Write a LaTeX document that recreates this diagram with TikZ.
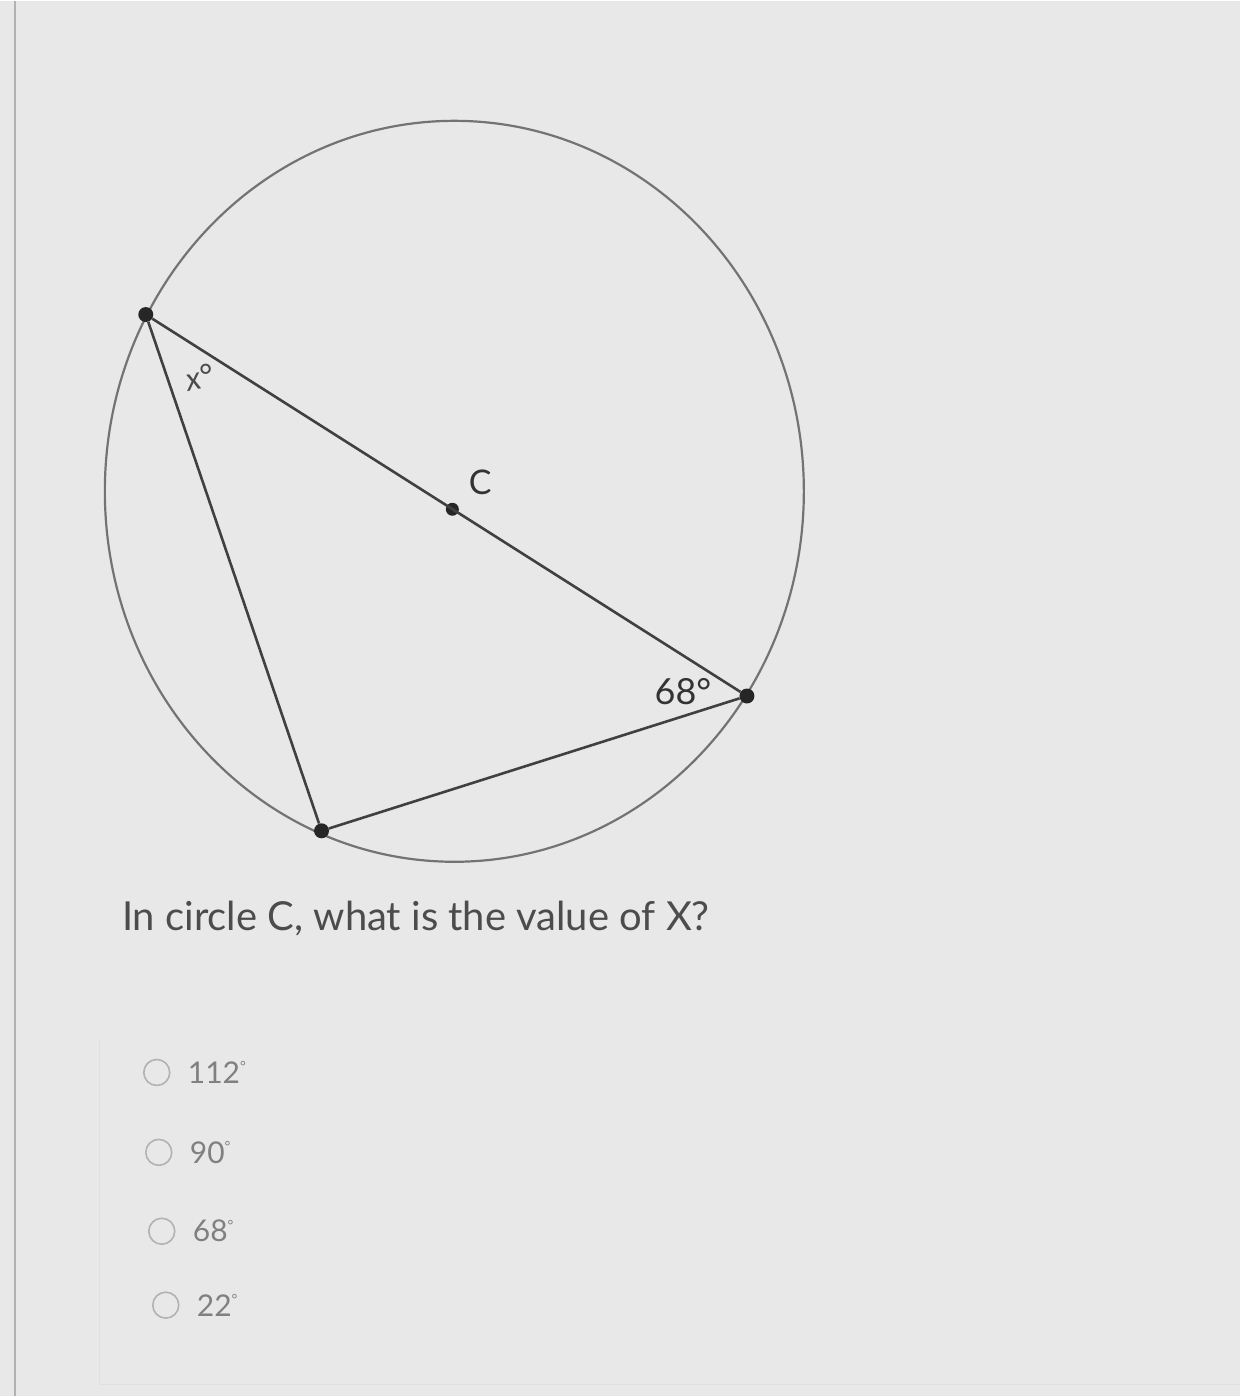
\documentclass[tikz,border=0pt]{standalone}
\usepackage{fontspec}
\setmainfont{Lato}
\setsansfont{Lato}
\begin{document}
\begin{tikzpicture}[x=1pt, y=-1pt, font=\sffamily]

        % Styles
        \tikzstyle{chord} = [draw=black!75, line width=2.6pt]
        \tikzstyle{rim} = [draw=black!55, line width=2.2pt]
        \tikzstyle{vertex} = [circle, fill=black!85, inner sep=0pt, minimum size=15pt]
        \tikzstyle{radio} = [circle, draw=black!30, line width=1.6pt, inner sep=0pt, minimum size=26pt]
        \tikzstyle{answer} = [anchor=west, text=black!50, inner sep=0pt, font=\sffamily\fontsize{30}{36}\selectfont]
        \newcommand{\degmark}{\raisebox{0.75ex}{\fontsize{14}{14}\selectfont°}}

        % Screen background
        \fill[black!9] (0,0) rectangle (1242,1397);
        \draw[black!30, line width=2pt] (15,0) -- (15,1397);
        \draw[black!12, line width=1pt] (100,1040) -- (100,1385) -- (1242,1385);

        % Circle C
        \draw[rim] (455,491) ellipse [x radius=350, y radius=371];

        % Points
        \node[vertex] (A) at (146,314) {};
        \node[vertex] (B) at (748,696) {};
        \node[vertex] (D) at (322,831) {};
        \node[vertex, minimum size=13pt] (C) at (453,509) {};

        % Triangle
        \draw[chord] (A) -- (B);
        \draw[chord] (A) -- (D);
        \draw[chord] (D) -- (B);

        % Labels
        \node[text=black!70, inner sep=0pt, font=\sffamily\itshape\fontsize{32}{36}\selectfont] (xlbl) at (200,377) {\rotatebox{12}{x°}};
        \node[text=black!80, font=\sffamily\fontsize{34}{40}\selectfont] (clbl) at (481,482) {C};
        \node[text=black!80, font=\sffamily\fontsize{36}{42}\selectfont] (angB) at (684,692) {68°};

        % Question
        \node[anchor=west, text=black!70, inner sep=0pt, font=\sffamily\fontsize{40}{48}\selectfont] (question) at (122,919) {In circle C, what is the value of X?};

        % Choices
        \node[radio] (r1) at (157,1073) {};
        \node[answer] (a1) at (188,1073) {112\degmark};
        \node[radio] (r2) at (159,1153) {};
        \node[answer] (a2) at (190,1153) {90\degmark};
        \node[radio] (r3) at (162,1232) {};
        \node[answer] (a3) at (193,1232) {68\degmark};
        \node[radio] (r4) at (166,1306) {};
        \node[answer] (a4) at (197,1306) {22\degmark};

    \end{tikzpicture}
\end{document}
